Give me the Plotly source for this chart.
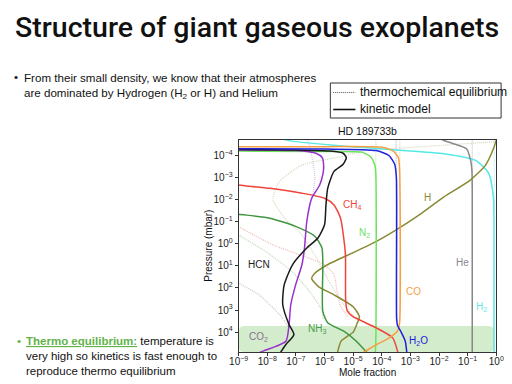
import plotly.graph_objects as go

W, H = 512, 384
FONT = "Liberation Sans, Arial, sans-serif"

# ---------------- data (log10 of mole fraction, log10 of pressure in mbar) ----------------
# kinetic model
H2_x = [-7.4, -7.2, -5.3, -3.5, -1.83, -0.71, -0.26, -0.1, -0.08, -0.08]
H2_p = [-4.72, -4.66, -4.42, -4.25, -4.08, -3.77, -3.18, -2.1, -1.0, 5.0]
He_x = [-1.9, -1.83, -1.3, -1.04, -0.9, -0.85, -0.84, -0.84]
He_p = [-4.72, -4.68, -4.45, -4.3, -3.8, -3.3, -2.5, 5.0]
H2O_x = [-9.5, -6.0, -4.2, -3.75, -3.55, -3.49, -3.48, -3.45, -3.34, -3.18, -3.12]
H2O_p = [-4.3, -4.29, -4.22, -4.0, -3.6, -3.0, 3.4, 3.7, 3.96, 4.41, 5.0]
CO_x = [-9.5, -6.0, -4.0, -3.6, -3.42, -3.38, -3.38, -3.45, -3.74, -4.3, -4.75]
CO_p = [-4.4, -4.4, -4.37, -4.2, -3.9, -3.4, 3.6, 3.95, 4.26, 4.65, 5.0]
CH4_x = [-9.3, -9.03, -7.91, -6.79, -6.0, -5.67, -5.44, -5.33, -5.27, -5.26, -5.2, -5.03, -4.19, -3.62, -3.45, -3.43]
CH4_p = [-2.7, -2.66, -2.51, -2.29, -2.06, -1.76, -1.16, -0.26, 0.5, 2.6, 3.05, 3.28, 3.81, 4.26, 4.86, 5.0]
NH3_x = [-9.3, -9.0, -7.91, -7.01, -6.34, -6.09, -6.06, -6.06, -5.89, -5.33, -4.9, -4.5]
NH3_p = [-1.4, -1.34, -1.16, -0.79, -0.34, 0.19, 1.0, 3.06, 3.58, 3.96, 4.4, 4.95]
HCN_x = [-9.5, -7.0, -5.8, -5.35, -5.24, -5.35, -5.67, -5.89, -5.95, -6.0, -6.23, -6.62, -7.12, -7.41, -7.46, -7.24, -7.07, -7.35, -7.58]
HCN_p = [-4.27, -4.25, -4.2, -4.1, -3.9, -3.6, -3.28, -2.51, -1.76, -0.86, -0.26, 0.19, 0.95, 1.86, 2.76, 3.66, 4.11, 4.56, 5.0]
CO2_x = [-9.5, -7.0, -6.3, -6.08, -6.03, -6.05, -6.17, -6.45, -6.62, -6.7, -6.79, -7.01, -7.18, -7.24, -7.35, -8.13, -8.4]
CO2_p = [-4.25, -4.22, -4.1, -3.9, -3.5, -3.2, -2.66, -2.06, -1.01, 0.19, 0.95, 1.86, 2.76, 3.66, 4.41, 4.85, 5.0]
N2_x = [-9.5, -6.0, -5.0, -4.69, -4.4, -4.25, -4.21, -4.21, -4.23]
N2_p = [-4.2, -4.18, -4.17, -4.15, -3.95, -3.6, -3.2, 4.5, 5.0]
Hat_x = [0.0, -0.1, -0.38, -0.92, -1.83, -2.6, -3.51, -4.29, -5.0, -5.9, -6.35, -6.45, -6.2, -5.67, -5.0, -4.78, -4.86, -5.0, -5.42, -5.56]
Hat_p = [-4.7, -4.3, -3.55, -2.87, -2.12, -1.39, -0.62, -0.04, 0.4, 0.95, 1.35, 1.58, 1.95, 2.31, 2.85, 3.3, 3.6, 4.0, 4.41, 5.0]

# thermochemical equilibrium
eqH2O_x = [-3.5, -3.5];   eqH2O_p = [-4.8, 3.5]
eqCO_x = [-3.37, -3.37];  eqCO_p = [-4.8, 3.5]
eqN2_x = [-4.21, -4.21];  eqN2_p = [-4.8, -3.0]
eqHe_x = [-0.84, -0.84];  eqHe_p = [-4.8, -2.5]
eqH2_x = [-0.07, -0.07];  eqH2_p = [-4.8, -1.5]
eqCH4_x = [-9.2, -9.0, -7.8, -6.0, -5.67, -5.56, -5.44, -5.3, -5.2]
eqCH4_p = [-0.9, -0.77, 0.05, 0.95, 1.41, 2.16, 2.83, 3.1, 3.3]
eqNH3_x = [-9.2, -9.0, -8.0, -7.1, -6.5, -6.1, -6.05]
eqNH3_p = [-0.55, -0.4, 0.4, 1.3, 2.2, 3.0, 3.4]
eqHCN_x = [-9.2, -9.0, -8.3, -7.52, -7.25]
eqHCN_p = [1.6, 1.78, 2.3, 3.28, 3.8]
eqCO2_x = [-6.6, -6.45, -6.34, -6.4, -6.55, -6.62]
eqCO2_p = [-4.8, -4.0, -3.0, -2.3, -1.5, -1.0]
eqH_x = [0.0, -0.9, -2.5, -4.66, -5.44, -6.8, -7.58, -7.8, -7.33, -6.88, -6.3, -5.8, -5.3, -4.9]
eqH_p = [-4.62, -4.55, -4.4, -4.2, -3.94, -3.56, -2.81, -2.0, -1.07, -0.55, 0.6, 1.8, 2.8, 3.4]

# species labels: (text, log x, log p)
label_text = ["CH<sub>4</sub>", "N<sub>2</sub>", "H", "HCN", "He", "CO", "H<sub>2</sub>", "CO<sub>2</sub>", "NH<sub>3</sub>", "H<sub>2</sub>O"]
label_logx = [-5.03, -4.59, -2.4, -8.3, -1.19, -2.9, -0.52, -8.3, -6.28, -2.7]
label_logp = [-1.75, -0.49, -2.1, 0.95, 0.86, 2.17, 2.85, 4.24, 3.88, 4.38]
label_color = ["#f0443a", "#6be35a", "#8a8a35", "#222222", "#888888", "#f5a043", "#66e8e8", "#8b7090", "#4a9e4a", "#2222dd"]

x_tick_exp = [-9, -8, -7, -6, -5, -4, -3, -2, -1, 0]
y_tick_exp = [-4, -3, -2, -1, 0, 1, 2, 3, 4]
x_range_log = [-9, 0]
y_range_log = [4.9, -4.7]

def pw(a):
    return [10 ** v for v in a]

def sup(e):
    return "10<sup>" + ("\u2212" + str(-e) if e < 0 else str(e)) + "</sup>"

fig = go.Figure()

eq = [
    (eqH2O_x, eqH2O_p, "#b4b4f0"), (eqCO_x, eqCO_p, "#f6d2a2"), (eqN2_x, eqN2_p, "#c0eeb4"),
    (eqHe_x, eqHe_p, "#c4c4c4"), (eqH2_x, eqH2_p, "#b0f2f2"), (eqCH4_x, eqCH4_p, "#f4b8b4"),
    (eqNH3_x, eqNH3_p, "#bcd8b4"), (eqHCN_x, eqHCN_p, "#c8c8c8"), (eqCO2_x, eqCO2_p, "#d8c0e4"),
    (eqH_x, eqH_p, "#d6d6be"),
]
for xs, ps, c in eq:
    fig.add_trace(go.Scatter(x=pw(xs), y=pw(ps), mode="lines",
                             line=dict(color=c, width=1.2, dash="1px,1px", shape="spline", smoothing=0.6),
                             showlegend=False, hoverinfo="skip"))

kin = [
    (H2_x, H2_p, "#55e8e8"), (He_x, He_p, "#888888"), (Hat_x, Hat_p, "#8a8a35"),
    (N2_x, N2_p, "#6be35a"), (CH4_x, CH4_p, "#f0443a"), (NH3_x, NH3_p, "#3f963f"),
    (CO2_x, CO2_p, "#9932cc"), (HCN_x, HCN_p, "#1a1a1a"), (CO_x, CO_p, "#f5a043"),
    (H2O_x, H2O_p, "#2020e0"),
]
for xs, ps, c in kin:
    fig.add_trace(go.Scatter(x=pw(xs), y=pw(ps), mode="lines",
                             line=dict(color=c, width=1.5, shape="spline", smoothing=0.6),
                             showlegend=False, hoverinfo="skip"))

for t, lx, lp, c in zip(label_text, label_logx, label_logp, label_color):
    fig.add_annotation(x=lx, y=lp, xref="x", yref="y", text=t, showarrow=False,
                       font=dict(family=FONT, size=10, color=c))

x0d, x1d = 237 / W, 504 / W
y0d, y1d = 1 - 352 / H, 1 - 140 / H

axis_common = dict(type="log", showline=True, mirror=True, linecolor="#333333", linewidth=1,
                   ticks="outside", ticklen=3, tickcolor="#333333", showgrid=False, zeroline=False,
                   tickfont=dict(family=FONT, size=10, color="#222222"), tickmode="array")
fig.update_layout(
    width=W, height=H, autosize=False,
    margin=dict(l=0, r=0, t=0, b=0),
    paper_bgcolor="white", plot_bgcolor="white",
    xaxis=dict(axis_common, range=x_range_log, domain=[x0d, x1d], ticklabelstandoff=-3,
               tickvals=pw(x_tick_exp), ticktext=[sup(e) for e in x_tick_exp]),
    yaxis=dict(axis_common, range=y_range_log, domain=[y0d, y1d],
               tickvals=pw(y_tick_exp), ticktext=[sup(e) for e in y_tick_exp]),
)

# green shaded region (rounded)
sx0, sx1 = 237 / W, 502 / W
sy0, sy1 = 1 - 352 / H, 1 - 326 / H
rx, ry = 6 / W, 6 / H
path = (f"M {sx0+rx},{sy0} L {sx1-rx},{sy0} Q {sx1},{sy0} {sx1},{sy0+ry} L {sx1},{sy1-ry} "
        f"Q {sx1},{sy1} {sx1-rx},{sy1} L {sx0+rx},{sy1} Q {sx0},{sy1} {sx0},{sy1-ry} "
        f"L {sx0},{sy0+ry} Q {sx0},{sy0} {sx0+rx},{sy0} Z")
fig.add_shape(type="path", path=path, xref="paper", yref="paper", layer="below",
              fillcolor="rgba(140,205,120,0.38)", line=dict(width=0))

# legend box
fig.add_shape(type="rect", xref="paper", yref="paper", x0=332 / W, x1=509 / W,
              y0=1 - 118 / H, y1=1 - 83 / H, line=dict(color="#333333", width=1), fillcolor="white")
fig.add_shape(type="line", xref="paper", yref="paper", x0=335 / W, x1=358 / W,
              y0=1 - 92.5 / H, y1=1 - 92.5 / H, line=dict(color="#555555", width=1, dash="1px,1px"))
fig.add_shape(type="line", xref="paper", yref="paper", x0=335 / W, x1=358 / W,
              y0=1 - 109.5 / H, y1=1 - 109.5 / H, line=dict(color="#111111", width=1.6))

def txt(x, y, s, size=12, color="#111111", anchor="left", family=FONT, weight=None, **kw):
    f = dict(family=family, size=size, color=color)
    if weight:
        f["weight"] = weight
    fig.add_annotation(x=x / W, y=1 - y / H, xref="paper", yref="paper", text=s, showarrow=False,
                       xanchor=anchor, yanchor="middle", font=f, **kw)

txt(361, 92, "thermochemical equilibrium", size=12.1)
txt(361, 109, "kinetic model", size=12.1)

txt(256, 28, "Structure of giant gaseous exoplanets", size=28.5, color="#111111", anchor="center",
    family="Roboto, Liberation Sans, sans-serif", weight=500)
txt(2, 77, "\u2022", size=11.5)
txt(12, 77, "From their small density, we know that their atmospheres", size=11.6)
txt(12, 93, "are dominated by Hydrogen (H<sub>2</sub> or H) and Helium", size=11.6)

txt(5, 341, "\u2022", color="#62b34a", size=11.5)
txt(15, 341, "<span style=\"color:#62b34a\"><b><u>Thermo equilibrium:</u></b></span> temperature is", size=11.5)
txt(15, 356, "very high so kinetics is fast enough to", size=11.5)
txt(15, 371, "reproduce thermo equilibrium", size=11.5)

txt(370.5, 131, "HD 189733b", size=10.5, anchor="center")
txt(370.5, 372, "Mole fraction", size=10, anchor="center")
fig.add_annotation(x=205 / W, y=1 - 246 / H, xref="paper", yref="paper", text="Pressure (mbar)",
                   showarrow=False, textangle=-90, font=dict(family=FONT, size=10, color="#111111"))

fig.write_html("out.html", config={"displayModeBar": False},
               post_script="document.body.style.margin='0';document.body.style.overflow='hidden';")
